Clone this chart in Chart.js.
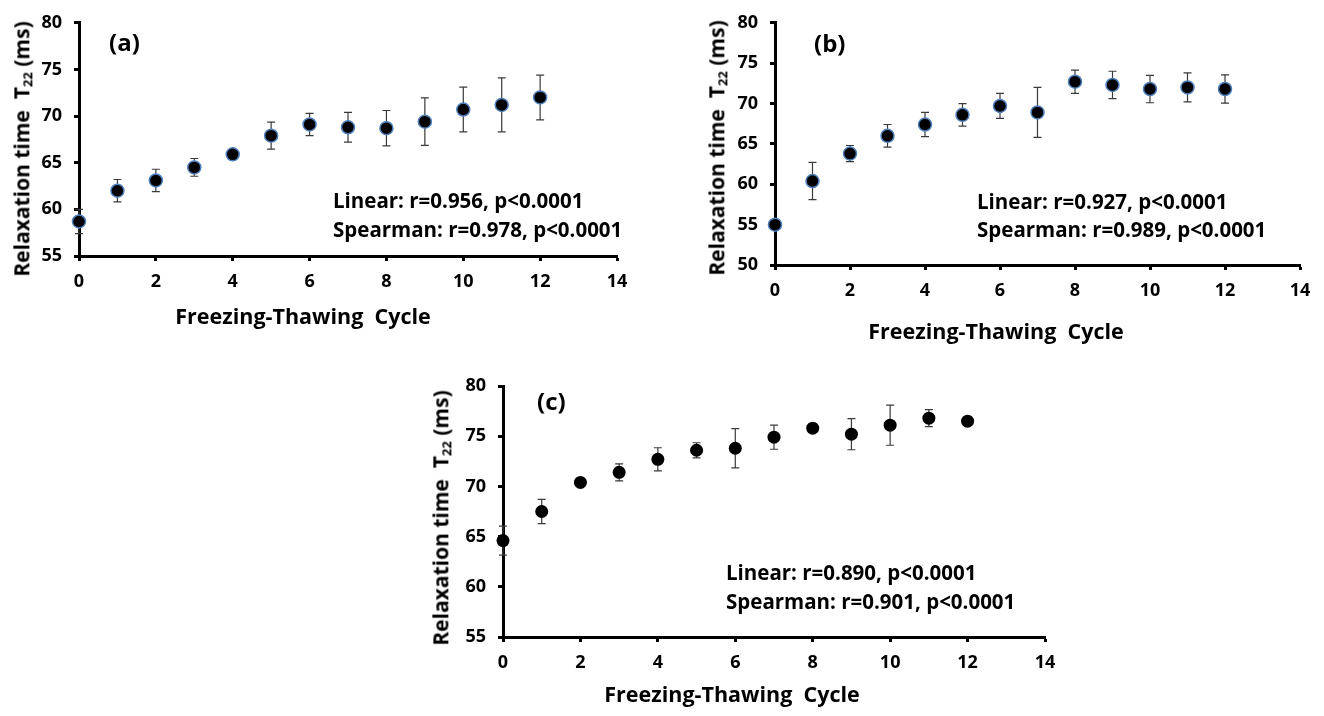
<!DOCTYPE html>
<html>
<head>
<meta charset="utf-8">
<script src="https://cdn.jsdelivr.net/npm/chart.js@4.4.0/dist/chart.umd.min.js"></script>
<style>
  body { margin: 0; background: #fff; }
  #page { position: relative; width: 1324px; height: 716px; overflow: hidden; font-family: "Open Sans", sans-serif; color: #000; }
  canvas { position: absolute; left: 0; top: 0; }
  .t { position: absolute; white-space: pre; line-height: 1; font-weight: bold; }
  .yt { transform: translate(-50%, -50%) rotate(-90deg); font-size: 21px; }
  .xt { transform: translate(-50%, -50%); font-size: 21.5px; }
  .lab { font-size: 24px; }
  .ann { font-size: 20.5px; }
  sub { font-size: 0.62em; vertical-align: -0.25em; }
</style>
</head>
<body>
<div id="page">
  <canvas id="chartA" width="1324" height="716"></canvas>
  <canvas id="chartB" width="1324" height="716"></canvas>
  <canvas id="chartC" width="1324" height="716"></canvas>

  <div class="t lab" style="left:109px;top:30px">(a)</div>
  <div class="t lab" style="left:814px;top:31px">(b)</div>
  <div class="t lab" style="left:537px;top:389px">(c)</div>

  <div class="t yt" style="left:23px;top:149px">Relaxation time  T<sub>22</sub> (ms)</div>
  <div class="t yt" style="left:718px;top:148px">Relaxation time  T<sub>22</sub> (ms)</div>
  <div class="t yt" style="left:442px;top:518px">Relaxation time  T<sub>22</sub> (ms)</div>

  <div class="t xt" style="left:303px;top:316px">Freezing-Thawing  Cycle</div>
  <div class="t xt" style="left:996px;top:331px">Freezing-Thawing  Cycle</div>
  <div class="t xt" style="left:732px;top:694px">Freezing-Thawing  Cycle</div>

  <div class="t ann" style="left:333px;top:190px">Linear: r=0.956, p&lt;0.0001</div>
  <div class="t ann" style="left:333px;top:219px">Spearman: r=0.978, p&lt;0.0001</div>
  <div class="t ann" style="left:977px;top:191px">Linear: r=0.927, p&lt;0.0001</div>
  <div class="t ann" style="left:977px;top:219px">Spearman: r=0.989, p&lt;0.0001</div>
  <div class="t ann" style="left:726px;top:562px">Linear: r=0.890, p&lt;0.0001</div>
  <div class="t ann" style="left:726px;top:591px">Spearman: r=0.901, p&lt;0.0001</div>
</div>
<script>
// freeze-thaw cycles (x)
const cycles = [0, 1, 2, 3, 4, 5, 6, 7, 8, 9, 10, 11, 12];

// T22 means and error bars, panel (a)
const t22A = [58.7, 62.0, 63.1, 64.5, 65.9, 67.9, 69.1, 68.8, 68.7, 69.4, 70.7, 71.2, 72.0];
const errA = [1.3, 1.2, 1.2, 0.95, 0.3, 1.45, 1.2, 1.6, 1.9, 2.55, 2.4, 2.9, 2.4];

// panel (b)
const t22B = [55.0, 60.4, 63.8, 66.0, 67.4, 68.6, 69.7, 68.9, 72.7, 72.3, 71.8, 72.0, 71.8];
const errB = [0.4, 2.3, 1.0, 1.4, 1.5, 1.4, 1.55, 3.1, 1.45, 1.7, 1.7, 1.8, 1.75];

// panel (c)
const t22C = [64.6, 67.5, 70.4, 71.4, 72.7, 73.6, 73.8, 74.9, 75.8, 75.2, 76.1, 76.8, 76.5];
const errC = [1.45, 1.2, 0.3, 0.85, 1.15, 0.75, 1.95, 1.2, 0.3, 1.55, 2.0, 0.85, 0.3];

// axis ranges
const xMin = 0, xMax = 14, xStep = 2;
const yRangeA = [55, 80], yRangeB = [50, 80], yRangeC = [55, 80];
const yStep = 5;

const errorBars = {
    id: 'errorBars',
    beforeDatasetsDraw(chart, args, opts) {
        const ctx = chart.ctx;
        const x = chart.scales.x, y = chart.scales.y;
        ctx.save();
        ctx.strokeStyle = '#3a3a3a';
        ctx.lineWidth = 1.2;
        chart.data.datasets[0].data.forEach(function(p, i) {
            const e = opts.errs[i];
            const px = x.getPixelForValue(p.x);
            const top = y.getPixelForValue(p.y + e);
            const bot = y.getPixelForValue(p.y - e);
            ctx.beginPath();
            ctx.moveTo(px, top); ctx.lineTo(px, bot);
            ctx.moveTo(px - 4, top); ctx.lineTo(px + 4, top);
            ctx.moveTo(px - 4, bot); ctx.lineTo(px + 4, bot);
            ctx.stroke();
        });
        ctx.restore();
    }
};

const Y_W = 60, X_H = 50;

function makePanel(id, vals, errs, yRange, box, style) {
    const tickFont = { family: 'Open Sans', size: 18, weight: 'bold' };
    const axisGrid = { drawOnChartArea: false, drawTicks: true, tickLength: 5, tickWidth: 3, tickColor: '#000' };
    return new Chart(document.getElementById(id), {
        type: 'scatter',
        data: {
            datasets: [{
                data: cycles.map(function(c, i) { return { x: c, y: vals[i] }; }),
                backgroundColor: '#000',
                borderColor: style.border,
                borderWidth: style.borderWidth,
                pointRadius: 6.5,
                pointHoverRadius: 6.5,
                clip: false
            }]
        },
        options: {
            responsive: false,
            animation: false,
            events: [],
            layout: {
                padding: {
                    left: box.left - Y_W,
                    top: box.top,
                    right: 1324 - box.right,
                    bottom: 716 - box.bottom - X_H
                }
            },
            scales: {
                x: {
                    type: 'linear', min: xMin, max: xMax,
                    afterFit: function(s) { s.height = X_H; },
                    ticks: { stepSize: xStep, color: '#000', font: tickFont, padding: 10 },
                    grid: axisGrid,
                    border: { color: '#000', width: 3 }
                },
                y: {
                    min: yRange[0], max: yRange[1],
                    afterFit: function(s) { s.width = Y_W; },
                    ticks: { stepSize: yStep, color: '#000', font: tickFont, padding: 12 },
                    grid: axisGrid,
                    border: { color: '#000', width: 3 }
                }
            },
            plugins: {
                legend: { display: false },
                tooltip: { enabled: false },
                errorBars: { errs: errs }
            }
        },
        plugins: [errorBars]
    });
}

makePanel('chartA', t22A, errA, yRangeA, { left: 79, top: 19, right: 617, bottom: 256 },
    { border: '#4f81bd', borderWidth: 1.5 });
makePanel('chartB', t22B, errB, yRangeB, { left: 775, top: 17, right: 1300, bottom: 265 },
    { border: '#4f81bd', borderWidth: 1.5 });
makePanel('chartC', t22C, errC, yRangeC, { left: 503, top: 386, right: 1045, bottom: 637 },
    { border: '#000', borderWidth: 0 });
</script>
</body>
</html>
